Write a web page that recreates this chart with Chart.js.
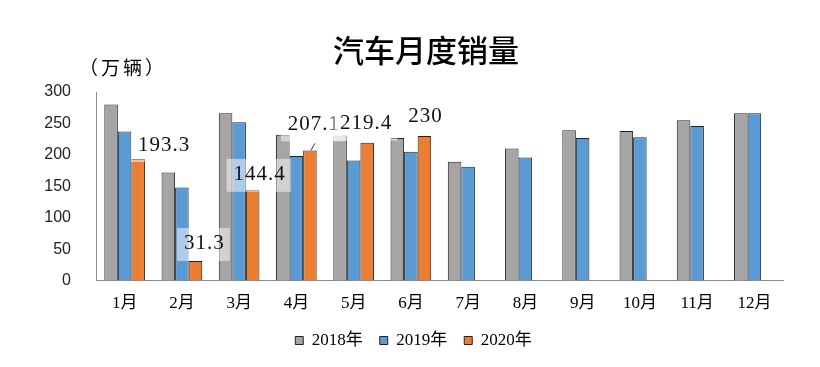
<!DOCTYPE html>
<html>
<head>
<meta charset="utf-8">
<script src="https://cdn.jsdelivr.net/npm/chart.js@4.4.1/dist/chart.umd.min.js"></script>
<style>
  html, body { margin: 0; padding: 0; background: #fff; }
  #wrap { width: 820px; height: 367px; }
</style>
</head>
<body>
<div id="wrap"><canvas id="salesChart" width="820" height="367"></canvas></div>
<script>
/***** DATA *****/
var months = ['1月', '2月', '3月', '4月', '5月', '6月', '7月', '8月', '9月', '10月', '11月', '12月'];
var seriesNames = ['2018年', '2019年', '2020年'];
var sales2018 = [280, 172, 266, 232, 231, 227, 189, 210, 239, 238, 255, 266];
var sales2019 = [237, 148, 252, 198, 191, 205, 181, 196, 227, 228, 246, 266];
var sales2020 = [193.3, 31.3, 144.4, 207.1, 219.4, 230, null, null, null, null, null, null];
var yTicks = [0, 50, 100, 150, 200, 250, 300];

// label text offsets from the top of each 2020 bar (px)
var labelOffsets = [[25, -14], [8, -17], [6, -15], [3, -26], [-2, -19], [0, -20]];

var serifFont = '"Liberation Serif", "Noto Sans CJK SC", serif';
var sansFont = '"Liberation Sans", Arial, sans-serif';

/***** PLUGINS *****/
var headerPlugin = {
    id: 'header',
    afterDraw: function (chart) {
        var ctx = chart.ctx;
        ctx.save();
        ctx.fillStyle = '#000';
        ctx.textAlign = 'center';
        ctx.textBaseline = 'middle';
        ctx.font = '500 31px "Noto Sans CJK SC", sans-serif';
        ctx.fillText('汽车月度销量', 426, 50);
        ctx.font = '19px "Noto Sans CJK SC", sans-serif';
        ctx.letterSpacing = '3px';
        ctx.fillText('（万辆）', 123, 68);
        ctx.restore();
    }
};

var valueLabelPlugin = {
    id: 'valueLabels',
    afterDatasetsDraw: function (chart) {
        var ctx = chart.ctx;
        var meta = chart.getDatasetMeta(2);
        ctx.save();
        ctx.font = '21px ' + serifFont;
        ctx.letterSpacing = '1px';
        ctx.textAlign = 'center';
        ctx.textBaseline = 'middle';
        sales2020.forEach(function (v, i) {
            if (v === null || !labelOffsets[i]) return;
            var bar = meta.data[i];
            var x = bar.x + labelOffsets[i][0];
            var y = bar.y + labelOffsets[i][1];
            var txt = String(v);
            var w = ctx.measureText(txt).width + 12;
            ctx.fillStyle = 'rgba(255,255,255,0.5)';
            ctx.fillRect(x - w / 2, y - 16, w, 33);
            if (i === 3) {
                ctx.strokeStyle = '#333';
                ctx.lineWidth = 1;
                ctx.beginPath();
                ctx.moveTo(bar.x + 1, bar.y);
                ctx.lineTo(bar.x + 5, bar.y - 7);
                ctx.stroke();
            }
            ctx.fillStyle = '#111';
            ctx.fillText(txt, x + 1, y);
        });
        ctx.restore();
    }
};

/***** CHART *****/
var data = {
    labels: months,
    datasets: [{
        label: seriesNames[0],
        data: sales2018,
        backgroundColor: '#a5a5a5'
    }, {
        label: seriesNames[1],
        data: sales2019,
        backgroundColor: '#5b9bd5'
    }, {
        label: seriesNames[2],
        data: sales2020,
        backgroundColor: '#ed7d31'
    }]
};
data.datasets.forEach(function (ds) {
    ds.borderColor = '#222';
    ds.borderWidth = 1;
    ds.categoryPercentage = 0.71;
    ds.barPercentage = 1.0;
});

var options = {
    responsive: false,
    animation: false,
    layout: { padding: { top: 92, left: 44, right: 37, bottom: 8 } },
    plugins: {
        title: { display: false },
        tooltip: { enabled: false },
        legend: {
            position: 'bottom',
            labels: {
                boxWidth: 8,
                boxHeight: 8,
                padding: 17,
                color: '#000',
                font: { family: serifFont, size: 17 }
            }
        }
    },
    scales: {
        x: {
            grid: { display: false, drawTicks: false },
            border: { color: '#8c8c8c', width: 1 },
            afterFit: function (axis) { axis.height = axis.height - 12; },
            ticks: {
                color: '#000',
                padding: 13,
                font: { family: serifFont, size: 17 }
            }
        },
        y: {
            min: 0,
            max: 300,
            afterBuildTicks: function (axis) {
                axis.ticks = yTicks.map(function (v) { return { value: v }; });
            },
            afterFit: function (axis) { axis.width = 52; },
            grid: { display: false, drawTicks: false },
            border: { color: '#8c8c8c', width: 1 },
            ticks: {
                color: '#222',
                padding: 25,
                font: { family: sansFont, size: 16 }
            }
        }
    }
};

var ctx = document.getElementById('salesChart').getContext('2d');
var salesChart = new Chart(ctx, {
    type: 'bar',
    data: data,
    options: options,
    plugins: [headerPlugin, valueLabelPlugin]
});
</script>
</body>
</html>
